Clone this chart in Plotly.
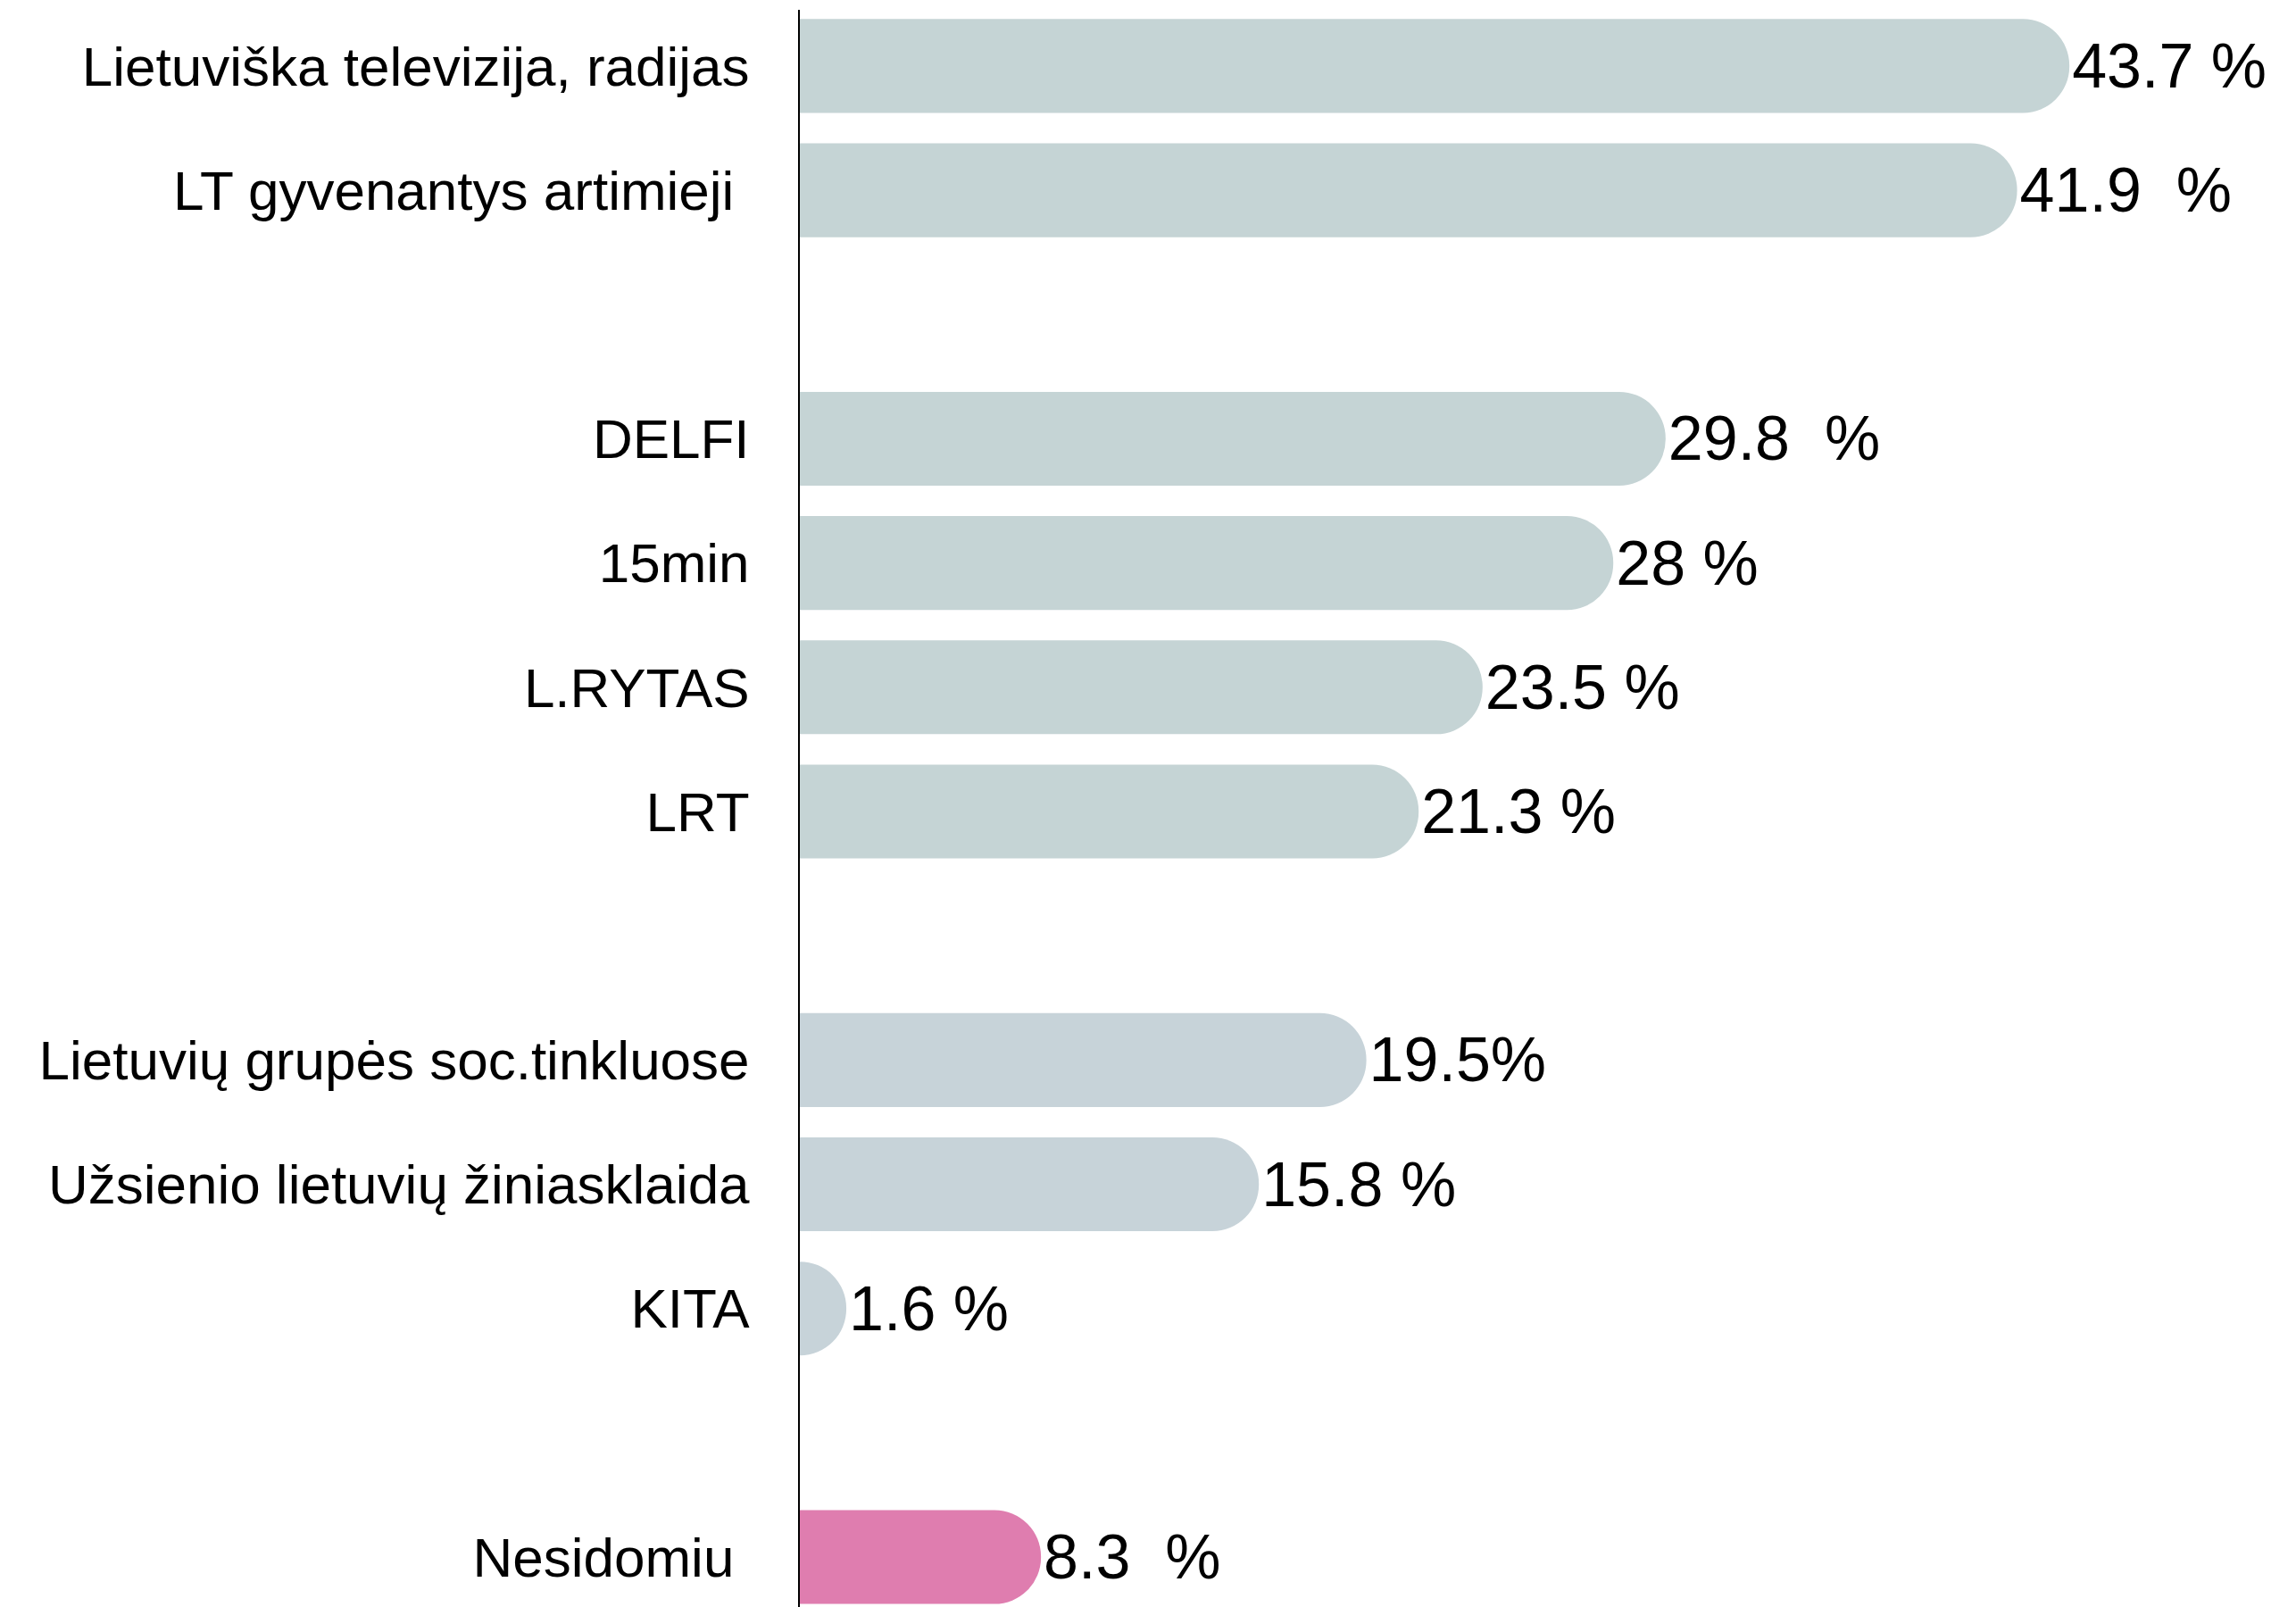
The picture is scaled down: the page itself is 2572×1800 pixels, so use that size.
import plotly.graph_objects as go

# Row order (top to bottom), including blank spacer rows between groups
row_order = [
    "Lietuviška televizija, radijas",
    "LT gyvenantys artimieji\u00a0",
    " ",
    "DELFI",
    "15min",
    "L.RYTAS",
    "LRT",
    "  ",
    "Lietuvių grupės soc.tinkluose",
    "Užsienio lietuvių žiniasklaida",
    "KITA",
    "   ",
    "Nesidomiu\u00a0",
]

# Group 1: Lithuanian media / relatives / portals
media_cats = ["Lietuviška televizija, radijas", "LT gyvenantys artimieji\u00a0",
              "DELFI", "15min", "L.RYTAS", "LRT"]
media_vals = [43.7, 41.9, 29.8, 28, 23.5, 21.3]
media_text = ["43.7 %", "41.9  %", "29.8  %", "28 %", "23.5 %", "21.3 %"]

# Group 2: diaspora / social / other
other_cats = ["Lietuvių grupės soc.tinkluose", "Užsienio lietuvių žiniasklaida", "KITA"]
other_vals = [19.5, 15.8, 1.6]
other_text = ["19.5%", "15.8 %", "1.6 %"]

# Group 3: not interested
none_cats = ["Nesidomiu\u00a0"]
none_vals = [8.3]
none_text = ["8.3  %"]

FONT = "Liberation Sans, Arial, Helvetica, sans-serif"
value_font = dict(family=FONT, size=70, color="#000000")

fig = go.Figure()
for cats, vals, txt, col in [
    (media_cats, media_vals, media_text, "#c5d4d5"),
    (other_cats, other_vals, other_text, "#c7d3d9"),
    (none_cats, none_vals, none_text, "#df7daf"),
]:
    fig.add_trace(go.Bar(
        y=cats, x=vals, orientation="h",
        marker=dict(color=col, line=dict(width=0), cornerradius="50%"),
        text=txt, textposition="outside", textfont=value_font,
        cliponaxis=False, hoverinfo="skip",
    ))

# the page body has an 8px default margin: shrink the figure to compensate
fig.update_layout(
    width=2564, height=1792,
    margin=dict(l=888, r=0, t=3, b=0, autoexpand=False),
    paper_bgcolor="white", plot_bgcolor="white",
    barmode="overlay", bargap=0.245,
    showlegend=False,
    font=dict(family=FONT, color="#000000"),
    xaxis=dict(range=[0, 51.5], visible=False, showgrid=False, zeroline=False,
               automargin=False),
    yaxis=dict(
        type="category", categoryorder="array", categoryarray=row_order,
        range=[12.402, -0.452], automargin=False,
        showline=True, linecolor="#000000", linewidth=2,
        showgrid=False, zeroline=False, ticks="",
        ticklabelstandoff=42,
        tickfont=dict(family=FONT, size=62, color="#000000"),
    ),
)

fig.write_html("out.html")
